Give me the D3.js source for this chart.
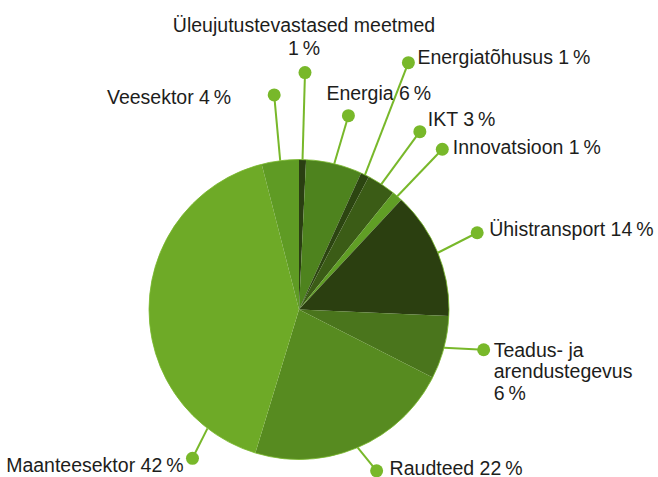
<!DOCTYPE html>
<html>
<head>
<meta charset="utf-8">
<script src="https://cdn.jsdelivr.net/npm/d3@7"></script>
<style>
  html, body { margin: 0; padding: 0; background: #fff; }
  svg { display: block; }
  text { font-family: "Liberation Sans", Arial, sans-serif; font-size: 19.5px; fill: #1d1d1b; }
</style>
</head>
<body>
<svg id="chart" width="658" height="477"></svg>
<script>
// ---- data ----
const categories = [
  "Üleujutustevastased meetmed",
  "Energia",
  "Energiatõhusus",
  "IKT",
  "Innovatsioon",
  "Ühistransport",
  "Teadus- ja\narendustegevus",
  "Raudteed",
  "Maanteesektor",
  "Veesektor"
];
const values = [0.75, 6.05, 0.9, 3.1, 1.15, 13.75, 6.8, 22.2, 41.3, 4.0];
const percentLabels = ["1", "6", "1", "3", "1", "14", "6", "22", "42", "4"];

// ---- styles / layout ----
const colors = ["#2a3f12", "#4e831e", "#2c4511", "#3b5c16", "#609e25",
                "#2b3f10", "#4a751c", "#578b20", "#6eaa27", "#5f9b24"];
const accent = "#78b82a";
const cx = 299, cy = 309.5, R = 150;
// label dot placement (angle in degrees clockwise from 12 o'clock, radius from centre)
const dotAngle  = [1.45, 14.3, 23.9, 34.2, 41.8, 66.7, 102.3, 154.3, 215.6, 353.4];
const dotRadius = [237, 200, 270, 215, 215, 194, 189, 179, 183, 216];
const lineStartAngle = [null, null, null, null, null, null, null, null, 217.6, null];
const textAnchor = ["middle", "start", "start", "start", "start", "start", "start", "start", "end", "end"];
const textDx = [-1, -22, 9, 8, 10.5, 12, 10, 13, -9, -43];
const textDy = [-47.3, -23, -6, -13, -2.6, -4, 0, -3, 7, 1.7];
const pctOnNewLine = [true, false, false, false, false, false, true, false, false, false];
const lineHeight = [22.5, 0, 0, 0, 0, 0, 21.7, 0, 0, 0];

const svg = d3.select("#chart");
const g = svg.append("g").attr("transform", `translate(${cx},${cy})`);

const pie = d3.pie().sort(null).value(d => d).startAngle(0).endAngle(2 * Math.PI);
const arcs = pie(values);
const arc = d3.arc().innerRadius(0).outerRadius(R);

g.selectAll("path.slice")
  .data(arcs)
  .join("path")
  .attr("class", "slice")
  .attr("d", arc)
  .attr("fill", (d, i) => colors[i]);

g.append("circle").attr("r", R).attr("fill", "none")
  .attr("stroke", accent).attr("stroke-width", 1).attr("stroke-opacity", 0.8);

const toRad = a => a * Math.PI / 180;
const polar = (angDeg, r) => [r * Math.sin(toRad(angDeg)), -r * Math.cos(toRad(angDeg))];

arcs.forEach((d, i) => {
  const midDeg = ((d.startAngle + d.endAngle) / 2) * 180 / Math.PI;
  const sAng = lineStartAngle[i] != null ? lineStartAngle[i] : midDeg;
  const [x0, y0] = polar(sAng, R);
  const [x1, y1] = polar(dotAngle[i], dotRadius[i]);
  g.append("line")
    .attr("x1", x0).attr("y1", y0).attr("x2", x1).attr("y2", y1)
    .attr("stroke", accent).attr("stroke-width", 2);
  g.append("circle").attr("cx", x1).attr("cy", y1).attr("r", 6.5).attr("fill", accent);

  const pct = percentLabels[i] + "\u2009%";
  let lines = categories[i].split("\n");
  if (pctOnNewLine[i]) lines.push(pct);
  else lines[lines.length - 1] += " " + pct;

  const t = g.append("text")
    .attr("text-anchor", textAnchor[i])
    .attr("x", x1 + textDx[i])
    .attr("y", y1 + textDy[i]);
  lines.forEach((ln, k) => {
    t.append("tspan")
      .attr("x", x1 + textDx[i])
      .attr("y", y1 + textDy[i] + k * lineHeight[i])
      .attr("dy", "0.36em")
      .text(ln);
  });
});
</script>
</body>
</html>
